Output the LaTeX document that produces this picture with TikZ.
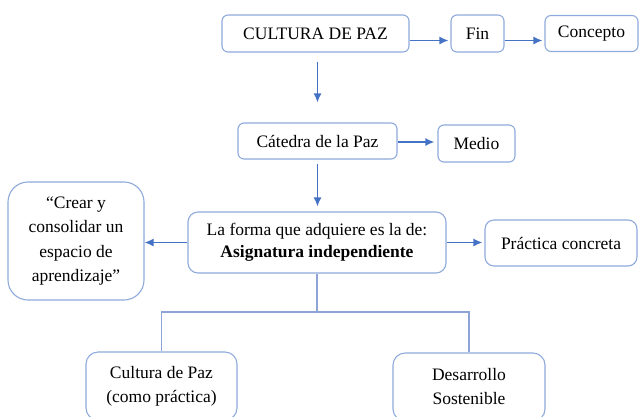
\documentclass[tikz,border=0pt]{standalone}
\usepackage{fontspec}
\setmainfont{Liberation Serif}
\usetikzlibrary{arrows.meta}
\definecolor{boxline}{HTML}{8FAADC}
\definecolor{arrowcol}{HTML}{4472C4}
\definecolor{treecol}{HTML}{8EA4D6}
\tikzset{
  box/.style={draw=boxline, line width=1.1pt, rounded corners=6pt, fill=white,
    align=center, inner sep=0pt, font=\fontsize{17.5}{24}\selectfont},
  arr/.style={draw=arrowcol, line width=1.5pt, -{Latex[length=9pt,width=8pt]}},
  tree/.style={draw=treecol, line width=1.8pt}
}
\begin{document}
\begin{tikzpicture}[x=1pt,y=-1pt]
\useasboundingbox (0,0) rectangle (639,416);
\clip (0,0) rectangle (639,416);
\node[box, minimum width=187pt, minimum height=37pt] (cultura) at (315.5,33.5) {CULTURA DE PAZ};
\node[box, minimum width=53pt, minimum height=37pt] (fin) at (477.5,33.5) {Fin};
\node[box, minimum width=93pt, minimum height=36pt] (concepto) at (591.5,33.5) {Concepto};
\node[box, minimum width=159pt, minimum height=36pt] (catedra) at (317.5,141) {Cátedra de la Paz};
\node[box, minimum width=77pt, minimum height=37pt] (medio) at (476.5,143.5) {Medio};
\node[box, rounded corners=10pt, minimum width=258pt, minimum height=61pt,
  font=\fontsize{17.5}{22}\selectfont] (forma) at (317,242.5)
  {La forma que adquiere es la de:\\\textbf{Asignatura independiente}};
\node[box, rounded corners=20pt, minimum width=136pt, minimum height=118pt,
  font=\fontsize{17.5}{24.5}\selectfont] (crear) at (76,241)
  {“Crear y\\consolidar un\\espacio de\\aprendizaje”};
\node[box, rounded corners=9pt, minimum width=152pt, minimum height=46pt] (practica) at (561,243) {Práctica concreta};
\node[box, rounded corners=12pt, minimum width=151pt, minimum height=68pt] (cpaz) at (161.5,386) {Cultura de Paz\\(como práctica)};
\node[box, rounded corners=12pt, minimum width=152pt, minimum height=68pt] (desarrollo) at (469,387) {Desarrollo\\Sostenible};
\draw[arr] ([yshift=-7pt]cultura.east) -- ([yshift=-7pt,xshift=-2pt]fin.west);
\draw[arr] ([yshift=-7pt]fin.east) -- ([yshift=-7pt,xshift=-2pt]concepto.west);
\draw[arr, shorten <=9pt, shorten >=20pt] (cultura.south -| catedra.north) -- (catedra.north);
\draw[arr] ([yshift=-1pt]catedra.east) -- ([yshift=-1pt,xshift=-3pt]catedra.east -| medio.west);
\draw[arr, shorten <=4pt, shorten >=5pt] (catedra.south) -- (catedra.south |- forma.north);
\draw[arr] (forma.west) -- (forma.west -| crear.east);
\draw[arr] (forma.east) -- ([xshift=-2pt]forma.east -| practica.west);
\coordinate (mid) at (317,312);
\draw[tree] (forma.south) -- (mid);
\draw[tree] (cpaz.north) |- (mid) -| (desarrollo.north);
\end{tikzpicture}
\end{document}
